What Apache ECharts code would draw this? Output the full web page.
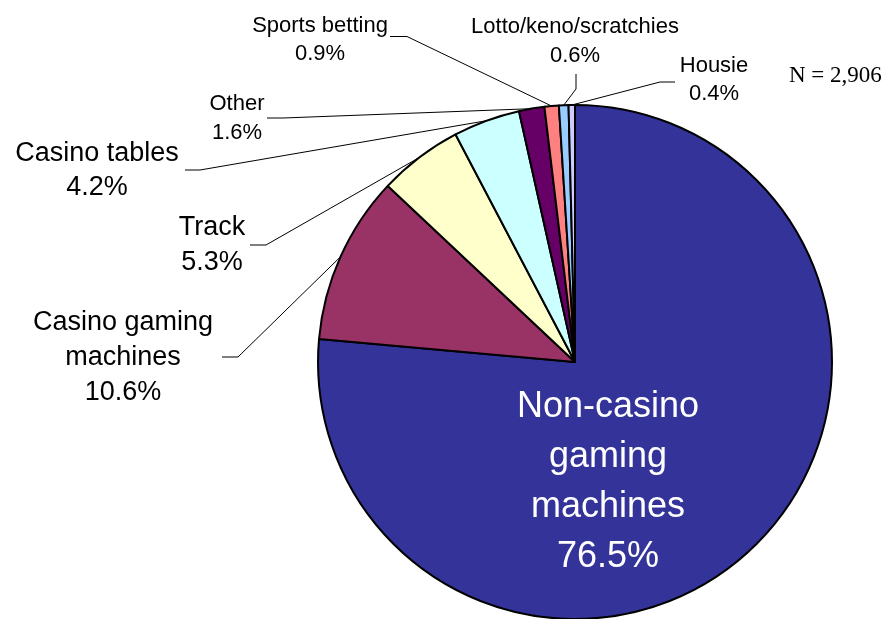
<!DOCTYPE html>
<html>
<head>
<meta charset="utf-8">
<script src="https://cdn.jsdelivr.net/npm/echarts@6/dist/echarts.min.js"></script>
<style>
  html, body { margin: 0; padding: 0; background: #ffffff; }
  #chart { width: 885px; height: 619px; }
</style>
</head>
<body>
<div id="chart"></div>
<script>
// Share of problem gamblers by main form of gambling (%)
const categories = [
  'Non-casino\ngaming\nmachines',
  'Casino gaming\nmachines',
  'Track',
  'Casino tables',
  'Other',
  'Sports betting',
  'Lotto/keno/scratchies',
  'Housie'
];
const shares = [76.5, 10.6, 5.3, 4.2, 1.6, 0.9, 0.6, 0.4];
const sampleNote = 'N = 2,906';

const sliceColors = ['#333399', '#993366', '#FFFFCC', '#CCFFFF', '#660066', '#FF8080', '#99CCFF', '#CCCCFF'];

// label placement: [centre x, centre y, font size, line height]
const labelSpots = [
  [608, 482, 36, 50],
  [123, 358, 27, 35],
  [212, 245, 27, 35],
  [97, 171, 27, 34],
  [237, 118, 22, 29],
  [320, 40, 22, 28],
  [575, 41, 22, 29],
  [714, 80, 22, 28]
];
// leader line bend and end points next to each outside label
const leaderBends = [
  null,
  [[238, 357], [222, 357]],
  [[266, 245], [250, 245]],
  [[200, 170], [185, 170]],
  [[283, 118], [267, 118]],
  [[407, 36.5], [390, 36.5]],
  [[576, 89], [576, 74]],
  [[660, 82], [675, 82]]
];

const slices = categories.map((name, i) => ({
  name: name,
  value: shares[i],
  itemStyle: { color: sliceColors[i] },
  label: {
    fontSize: labelSpots[i][2],
    lineHeight: labelSpots[i][3],
    color: i === 0 ? '#ffffff' : '#000000'
  },
  labelLine: { show: i !== 0 }
}));

const chart = echarts.init(document.getElementById('chart'), null, { renderer: 'canvas' });
chart.setOption({
  animation: false,
  backgroundColor: '#ffffff',
  title: {
    text: sampleNote,
    left: 784,
    top: 59,
    textStyle: {
      fontFamily: '"Liberation Serif", "Times New Roman", serif',
      fontSize: 23,
      fontWeight: 'normal',
      color: '#000000'
    }
  },
  series: [{
    type: 'pie',
    center: [575, 362],
    radius: 257,
    startAngle: 90,
    clockwise: true,
    avoidLabelOverlap: false,
    silent: true,
    itemStyle: { borderColor: '#000000', borderWidth: 2 },
    label: {
      show: true,
      position: 'outside',
      formatter: '{b}\n{c}%',
      fontFamily: '"Liberation Sans", Arial, sans-serif',
      align: 'center'
    },
    labelLine: {
      show: true,
      lineStyle: { color: '#000000', width: 1 }
    },
    labelLayout: function (p) {
      const s = labelSpots[p.dataIndex];
      const out = { x: s[0], y: s[1], align: 'center', verticalAlign: 'middle', hideOverlap: false };
      const bend = leaderBends[p.dataIndex];
      if (bend && p.labelLinePoints) {
        out.labelLinePoints = [p.labelLinePoints[0], bend[0], bend[1]];
      }
      return out;
    },
    data: slices
  }]
});
</script>
</body>
</html>
